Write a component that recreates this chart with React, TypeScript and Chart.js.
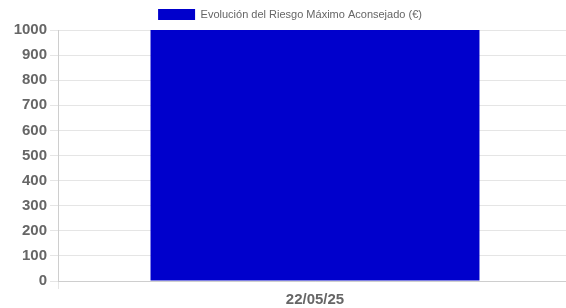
import React, { useEffect, useRef } from "react";
import { Chart, registerables } from "chart.js";

Chart.register(...registerables);

const categories: string[] = ["22/05/25"];
const riskValues: number[] = [1000];
const seriesLabel = "Evolución del Riesgo Máximo Aconsejado (€)";
const yMin = 0;
const yMax = 1000;
const yStep = 100;

export default function App() {
  const ref = useRef<HTMLCanvasElement | null>(null);

  useEffect(() => {
    if (!ref.current) return;
    const chart = new Chart(ref.current, {
      type: "bar",
      data: {
        labels: categories,
        datasets: [
          {
            label: seriesLabel,
            data: riskValues,
            backgroundColor: "#0000CC",
            borderColor: "#0000CC",
            borderWidth: 0,
            barPercentage: 0.8,
            categoryPercentage: 0.8,
          },
        ],
      },
      options: {
        animation: false,
        responsive: false,
        maintainAspectRatio: false,
        layout: { padding: 0 },
        plugins: {
          legend: {
            position: "top",
            labels: {
              boxWidth: 37,
              boxHeight: 11,
              color: "#666",
              font: { family: "'Liberation Sans', Arial, sans-serif", size: 11 },
              padding: 9,
            },
          },
          tooltip: { enabled: false },
        },
        scales: {
          x: {
            afterFit: (s: any) => {
              s.height = 27;
            },
            grid: { color: "rgba(0,0,0,0.1)" },
            ticks: {
              padding: 2,
              color: "#666",
              font: { family: "'Liberation Sans', Arial, sans-serif", size: 15, weight: "bold" },
            },
          },
          y: {
            min: yMin,
            max: yMax,
            afterFit: (s: any) => {
              s.width = 50;
            },
            grid: { color: "rgba(0,0,0,0.1)" },
            ticks: {
              stepSize: yStep,
              color: "#666",
              font: { family: "'Liberation Sans', Arial, sans-serif", size: 15, weight: "bold" },
              callback: (v: any) => String(v),
            },
          },
        },
      },
    });
    return () => chart.destroy();
  }, []);

  return (
    <div
      style={{
        position: "fixed",
        left: 8,
        top: 0,
        width: 558,
        height: 308,
        overflow: "hidden",
        background: "#fff",
      }}
    >
      <canvas ref={ref} width={564} height={308} style={{ display: "block", width: 564, height: 308 }} />
    </div>
  );
}
